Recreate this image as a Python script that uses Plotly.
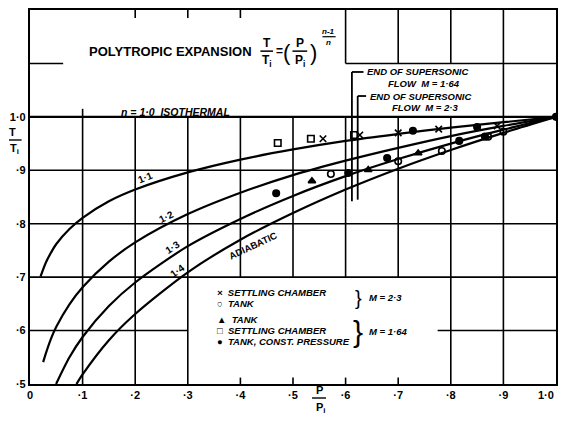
import plotly.graph_objects as go

# ---------------- data ----------------
P_iso = [0.0, 1.0]
T_iso = [1.0, 1.0]

P_n11 = [0.02, 0.03, 0.04, 0.05, 0.075, 0.1, 0.15, 0.2, 0.3, 0.4, 0.5, 0.6, 0.7, 0.8, 0.9, 1.0]
T_n11 = [0.701, 0.727, 0.746, 0.762, 0.790, 0.811, 0.842, 0.864, 0.896, 0.920, 0.939, 0.955, 0.968, 0.980, 0.990, 1.0]
P_n12 = [0.025, 0.03, 0.04, 0.05, 0.075, 0.1, 0.15, 0.2, 0.3, 0.4, 0.5, 0.6, 0.7, 0.8, 0.9, 1.0]
T_n12 = [0.541, 0.557, 0.585, 0.607, 0.649, 0.681, 0.729, 0.765, 0.818, 0.858, 0.891, 0.918, 0.942, 0.964, 0.983, 1.0]
P_n13 = [0.0496, 0.075, 0.1, 0.15, 0.2, 0.3, 0.4, 0.5, 0.6, 0.7, 0.8, 0.9, 1.0]
T_n13 = [0.500, 0.550, 0.588, 0.646, 0.690, 0.758, 0.809, 0.852, 0.889, 0.921, 0.950, 0.976, 1.0]
P_n14 = [0.0884, 0.1, 0.15, 0.2, 0.3, 0.4, 0.5, 0.6, 0.7, 0.8, 0.9, 1.0]
T_n14 = [0.500, 0.518, 0.582, 0.631, 0.709, 0.770, 0.820, 0.864, 0.903, 0.938, 0.970, 1.0]

# experimental points
sc23_P = [0.557, 0.627, 0.700, 0.777, 0.888]          # settling chamber, M=2.3
sc23_T = [0.959, 0.966, 0.970, 0.977, 0.983]
tank23_P = [0.572, 0.700, 0.783, 0.871, 0.900]        # tank, M=2.3
tank23_T = [0.893, 0.917, 0.936, 0.963, 0.972]
tank164_P = [0.536, 0.643, 0.738]                      # tank, M=1.64
tank164_T = [0.880, 0.901, 0.932]
sc164_P = [0.471, 0.534, 0.616]                        # settling chamber, M=1.64
sc164_T = [0.951, 0.959, 0.966]
cp_P = [0.468, 0.605, 0.679, 0.728, 0.816, 0.850, 0.865, 1.0]   # tank, const. pressure
cp_T = [0.857, 0.895, 0.923, 0.974, 0.955, 0.981, 0.963, 1.0]

end_M164_P = 0.612
end_M23_P = 0.623

x_tickvals = [0, 0.1, 0.2, 0.3, 0.4, 0.5, 0.6, 0.7, 0.8, 0.9]
x_ticktext = ["0", "·1", "·2", "·3", "·4", "·5", "·6", "·7", "·8", "·9"]
x_last_label = "1·0"
y_tickvals = [0.5, 0.6, 0.7, 0.8, 0.9, 1.0]
y_ticktext = ["·5", "·6", "·7", "·8", "·9", "1·0"]

FONT = "Liberation Sans"

fig = go.Figure()

curve_line = dict(color="black", width=2.2, shape="spline", smoothing=0.8)
fig.add_trace(go.Scatter(x=P_iso, y=T_iso, mode="lines", line=dict(color="black", width=2.2)))
for px_, ty_ in [(P_n11, T_n11), (P_n12, T_n12), (P_n13, T_n13), (P_n14, T_n14)]:
    fig.add_trace(go.Scatter(x=px_, y=ty_, mode="lines", line=curve_line))

mk = dict(color="black", size=6.5, line=dict(color="black", width=1.6))
fig.add_trace(go.Scatter(x=sc23_P, y=sc23_T, mode="markers",
                         marker=dict(symbol="x-thin-open", **mk)))
fig.add_trace(go.Scatter(x=tank23_P, y=tank23_T, mode="markers",
                         marker=dict(symbol="circle-open", **mk)))
fig.add_trace(go.Scatter(x=tank164_P, y=tank164_T, mode="markers",
                         marker=dict(symbol="triangle-up", **mk)))
fig.add_trace(go.Scatter(x=sc164_P, y=sc164_T, mode="markers",
                         marker=dict(symbol="square-open", **mk)))
fig.add_trace(go.Scatter(x=cp_P, y=cp_T, mode="markers",
                         marker=dict(symbol="circle", **mk)))

# ---------------- grid (hand drawn, irregular) ----------------
shapes = []
def seg(x0, y0, x1, y1, w=1.6, xref="x", yref="y"):
    shapes.append(dict(type="line", x0=x0, y0=y0, x1=x1, y1=y1, xref=xref, yref=yref,
                       line=dict(color="black", width=w), layer="below"))

for yv in [0.7, 0.8, 0.9]:
    seg(0, yv, 1, yv)
seg(0, 0.6, 0.3, 0.6)
seg(0.775, 0.6, 1.0, 0.6)
for xv in [0.1, 0.2, 0.3, 0.8, 0.9]:
    seg(xv, 0.5, xv, 1.0)
for xv in [0.4, 0.5, 0.6, 0.7]:
    seg(xv, 0.7, xv, 1.0)
    seg(xv, 0.5, xv, 0.512)
seg(0.1, 1.0, 0.1, 1.015)
for xv in [0.2, 0.3, 0.4]:
    seg(xv, 1.2, xv, 1.185)
seg(0, 1.1, 0.063, 1.1)
seg(0.6, 1.1, 1.0, 1.1)
for xv in [0.6, 0.7, 0.8]:
    seg(xv, 1.1, xv, 1.2)
seg(0.9, 1.0, 0.9, 1.2)

# end of supersonic flow markers
seg(end_M164_P, 1.084, end_M164_P, 0.842, w=1.8)
seg(end_M164_P, 1.084, end_M164_P + 0.022, 1.084, w=1.8)
seg(end_M23_P, 1.039, end_M23_P, 0.845, w=1.8)
seg(end_M23_P, 1.039, end_M23_P + 0.016, 1.039, w=1.8)

# fraction bars in formula
seg(0.438, 1.123, 0.462, 1.123, w=1.5)
seg(0.499, 1.123, 0.527, 1.123, w=1.5)
seg(0.556, 1.150, 0.581, 1.150, w=1.2)
# axis-title fraction bars (paper coordinates)
seg(-0.040, (384 - 140) / 374, -0.016, (384 - 140) / 374, w=1.4, xref="paper", yref="paper")
seg((312 - 30) / 526, (384 - 398) / 374, (326 - 30) / 526, (384 - 398) / 374, w=1.4,
    xref="paper", yref="paper")

ann = []
def txt(x, y, s, size=10, bold=True, italic=False, angle=0, xanchor="center",
        family=FONT, xref="x", yref="y"):
    t = s
    if italic:
        t = "<i>" + t + "</i>"
    if bold:
        t = "<b>" + t + "</b>"
    ann.append(dict(x=x, y=y, text=t, showarrow=False, xref=xref, yref=yref,
                    xanchor=xanchor, yanchor="middle", textangle=angle,
                    font=dict(family=family, size=size, color="black")))

# title and formula
txt(0.108, 1.122, "POLYTROPIC EXPANSION", size=13, xanchor="left")
txt(0.450, 1.139, "T", size=12)
txt(0.450, 1.104, "T<sub>i</sub>", size=12)
txt(0.474, 1.123, "=", size=12)
txt(0.488, 1.121, "(", size=22, bold=False)
txt(0.513, 1.139, "P", size=12)
txt(0.513, 1.104, "P<sub>i</sub>", size=12)
txt(0.539, 1.121, ")", size=22, bold=False)
txt(0.568, 1.160, "n-1", size=8, italic=True)
txt(0.568, 1.140, "n", size=8, italic=True)

txt(0.276, 1.010, "n = 1·0  ISOTHERMAL", size=10.5, italic=True)

txt(0.219, 0.886, "1·1", size=10, angle=-22)
txt(0.260, 0.813, "1·2", size=10, angle=-27)
txt(0.270, 0.756, "1·3", size=10, angle=-33)
txt(0.281, 0.712, "1·4", size=10, angle=-37)
txt(0.424, 0.760, "ADIABATIC", size=9.5, angle=-25)

txt(0.637, 1.084, "END OF SUPERSONIC", size=9.5, italic=True, xanchor="left")
txt(0.677, 1.063, "FLOW  M = 1·64", size=9.5, italic=True, xanchor="left")
txt(0.642, 1.039, "END OF SUPERSONIC", size=9.5, italic=True, xanchor="left")
txt(0.684, 1.018, "FLOW  M = 2·3", size=9.5, italic=True, xanchor="left")

# legend block
lx = 0.352
txt(lx, 0.671, "×  SETTLING CHAMBER", size=9.5, italic=True, xanchor="left")
txt(lx, 0.651, "○  TANK", size=9.5, italic=True, xanchor="left")
txt(lx, 0.620, "▲  TANK", size=9.5, italic=True, xanchor="left")
txt(lx, 0.600, "□  SETTLING CHAMBER", size=9.5, italic=True, xanchor="left")
txt(lx, 0.580, "●  TANK, CONST. PRESSURE", size=9.5, italic=True, xanchor="left")
txt(0.624, 0.661, "}", size=20, bold=False)
txt(0.640, 0.661, "M = 2·3", size=9.5, italic=True, xanchor="left")
txt(0.624, 0.599, "}", size=30, bold=False)
txt(0.640, 0.599, "M = 1·64", size=9.5, italic=True, xanchor="left")

# axis titles as fractions, and last x tick label kept inside the page
txt(-0.033, (384 - 132) / 374, "T", size=11, xref="paper", yref="paper")
txt(-0.030, (384 - 149) / 374, "T<sub>i</sub>", size=11, xref="paper", yref="paper")
txt((319 - 30) / 526, (384 - 390) / 374, "P", size=11, xref="paper", yref="paper")
txt((320 - 30) / 526, (384 - 408) / 374, "P<sub>i</sub>", size=11, xref="paper", yref="paper")
txt(1.0, (384 - 395) / 374, x_last_label, size=11, xanchor="right", xref="paper", yref="paper")

fig.update_layout(
    width=561, height=423,
    margin=dict(l=30, r=5, t=10, b=39),
    plot_bgcolor="white", paper_bgcolor="white",
    showlegend=False,
    shapes=shapes, annotations=ann,
    font=dict(family=FONT, color="black"),
)
fig.update_xaxes(range=[0, 1.0], tickvals=x_tickvals,
                 ticktext=["<b>%s</b>" % t for t in x_ticktext],
                 showgrid=False, zeroline=False, showline=True, mirror=True,
                 linecolor="black", linewidth=2.2, ticks="", automargin=False,
                 tickfont=dict(size=11, family=FONT, color="black"))
fig.update_yaxes(range=[0.5, 1.2], tickvals=y_tickvals,
                 ticktext=["<b>%s</b>" % t for t in y_ticktext],
                 showgrid=False, zeroline=False, showline=True, mirror=True,
                 linecolor="black", linewidth=2.2, ticks="", automargin=False,
                 tickfont=dict(size=11, family=FONT, color="black"))

fig.write_html("out.html", config={"displayModeBar": False},
               post_script="document.body.style.margin='0';document.body.style.overflow='hidden';")
